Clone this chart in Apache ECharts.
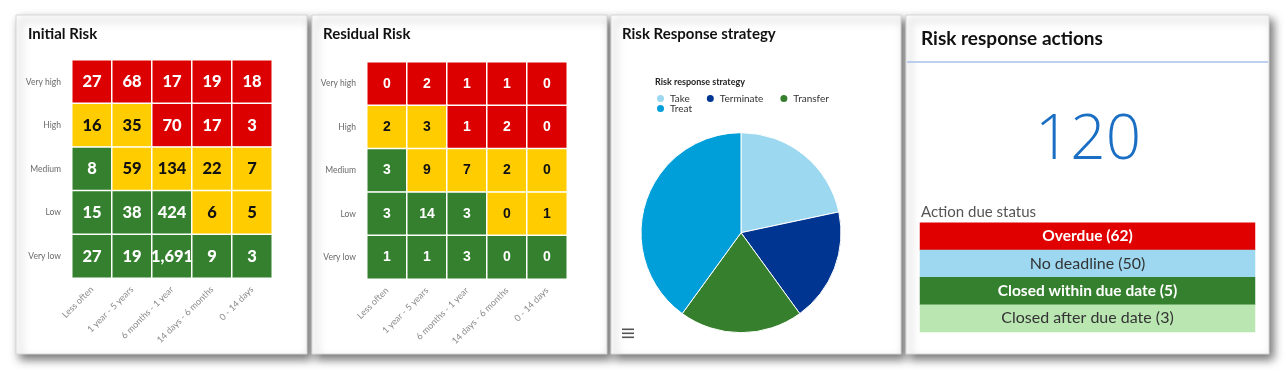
<!DOCTYPE html>
<html>
<head>
<meta charset="utf-8">
<script src="https://cdn.jsdelivr.net/npm/echarts@6/dist/echarts.min.js"></script>
<style>
html,body{margin:0;padding:0;background:#ffffff;}
#chart{width:1288px;height:370px;}
</style>
</head>
<body>
<div id="chart"></div>
<script>
// ---------- DATA ----------
const impactLevels = ['Very high', 'High', 'Medium', 'Low', 'Very low'];
const likelihoods = ['Less often', '1 year - 5 years', '6 months - 1 year', '14 days - 6 months', '0 - 14 days'];

const initialRisk = [
  [27, 68, 17, 19, 18],
  [16, 35, 70, 17, 3],
  [8, 59, 134, 22, 7],
  [15, 38, 424, 6, 5],
  [27, 19, 1691, 9, 3]
];
const residualRisk = [
  [0, 2, 1, 1, 0],
  [2, 3, 1, 2, 0],
  [3, 9, 7, 2, 0],
  [3, 14, 3, 0, 1],
  [1, 1, 3, 0, 0]
];
const ratingGrid = [
  ['H', 'H', 'H', 'H', 'H'],
  ['M', 'M', 'H', 'H', 'H'],
  ['L', 'M', 'M', 'M', 'M'],
  ['L', 'L', 'L', 'M', 'M'],
  ['L', 'L', 'L', 'L', 'L']
];

const strategyNames = ['Take', 'Terminate', 'Transfer', 'Treat'];
const strategyValues = [13, 11, 12, 24];

const statusNames = ['Overdue', 'No deadline', 'Closed within due date', 'Closed after due date'];
const statusCounts = [62, 50, 5, 3];

// ---------- STYLES ----------
const ratingColor = { H: '#dd0000', M: '#ffcc00', L: '#35802e' };
const ratingLabel = { H: '#ffffff', M: '#111111', L: '#ffffff' };
const strategyColors = ['#9cd8f0', '#003591', '#36802d', '#009fda'];
const statusColors = ['#e00000', '#9dd8f0', '#35802e', '#b9e6b1'];
const statusLabelColors = ['#ffffff', '#333333', '#ffffff', '#333333'];
const statusLabelWeights = ['bold', 'normal', 'bold', 'normal'];
const statusLabelSizes = [15.5, 16, 15.5, 16];

function matrixData(m) {
  const out = [];
  m.forEach((row, r) => row.forEach((v, c) => {
    const k = ratingGrid[r][c];
    out.push({ value: [c, r, v], itemStyle: { color: ratingColor[k] }, label: { color: ratingLabel[k] } });
  }));
  return out;
}

const cards = [
  { x: 16, y: 15, w: 291, h: 339 },
  { x: 312, y: 15, w: 295, h: 339 },
  { x: 611, y: 15, w: 290, h: 339 },
  { x: 906, y: 15, w: 363, h: 339 }
];

const titleStyle = { fontFamily: 'Lato', fontWeight: 'bold', fontSize: 15, color: '#111111' };

function matrixAxes(gi) {
  return {
    x: {
      type: 'category', gridIndex: gi, data: likelihoods,
      axisLine: { show: false }, axisTick: { show: false }, splitLine: { show: false },
      axisLabel: { rotate: 45, fontSize: 9, color: '#8a8a8a', fontFamily: 'Lato', margin: 10, interval: 0 }
    },
    y: {
      type: 'category', gridIndex: gi, data: impactLevels, inverse: true,
      axisLine: { show: false }, axisTick: { show: false }, splitLine: { show: false },
      axisLabel: { fontSize: 8.5, color: '#6a6a6a', fontFamily: 'Lato', margin: 11 }
    }
  };
}
const ax1 = matrixAxes(0), ax2 = matrixAxes(1);

const total = statusCounts.reduce((a, b) => a + b, 0);

const graphics = cards.map(c => ({
  type: 'rect', z: 0,
  shape: { x: c.x, y: c.y, width: c.w, height: c.h },
  style: { fill: '#ffffff', stroke: '#d6d6d6', lineWidth: 1, shadowBlur: 9, shadowOffsetX: 4, shadowOffsetY: 5, shadowColor: 'rgba(0,0,0,0.55)' }
}));
graphics.push(
  { type: 'line', z: 1, shape: { x1: 907, y1: 62, x2: 1268, y2: 62 }, style: { stroke: '#a9c1ea', lineWidth: 1.5 } },
  { type: 'rect', z: 1, shape: { x: 622, y: 328.5, width: 12, height: 1.6 }, style: { fill: '#555555' } },
  { type: 'rect', z: 1, shape: { x: 622, y: 332.5, width: 12, height: 1.6 }, style: { fill: '#555555' } },
  { type: 'rect', z: 1, shape: { x: 622, y: 336.5, width: 12, height: 1.6 }, style: { fill: '#555555' } },
  { type: 'text', z: 10, x: 1088, y: 141, style: { text: String(total), align: 'center', verticalAlign: 'middle', fontSize: 62, fontWeight: 300, fontFamily: 'Open Sans', fill: '#1a6ec3' } },
  { type: 'text', z: 10, x: 921, y: 212, style: { text: 'Action due status', align: 'left', verticalAlign: 'middle', fontSize: 15, fontFamily: 'Lato', fill: '#555555' } }
);

const legendCommon = {
  orient: 'horizontal', icon: 'circle', itemWidth: 9, itemHeight: 9, itemGap: 15, padding: 0,
  textStyle: { fontSize: 10, color: '#333333', fontFamily: 'Lato' }
};

const option = {
  animation: false,
  backgroundColor: '#ffffff',
  graphic: graphics,
  title: [
    { text: 'Initial Risk', left: 28, top: 27, padding: 0, textStyle: titleStyle },
    { text: 'Residual Risk', left: 323, top: 27, padding: 0, textStyle: titleStyle },
    { text: 'Risk Response strategy', left: 622, top: 27, padding: 0, textStyle: titleStyle },
    { text: 'Risk response actions', left: 921, top: 29, padding: 0, textStyle: Object.assign({}, titleStyle, { fontSize: 19 }) },
    { text: 'Risk response strategy', left: 655, top: 78, padding: 0, textStyle: { fontFamily: 'Lato', fontWeight: 'bold', fontSize: 9, color: '#222222' } }
  ],
  legend: [
    Object.assign({ data: strategyNames.slice(0, 3), left: 655, top: 93 }, legendCommon),
    Object.assign({ data: strategyNames.slice(3), left: 655, top: 103 }, legendCommon)
  ],
  grid: [
    { left: 72, top: 60, width: 200, height: 218, containLabel: false },
    { left: 367, top: 62, width: 200, height: 217, containLabel: false },
    { left: 920, top: 222.7, width: 335, height: 109.3, containLabel: false }
  ],
  xAxis: [
    ax1.x, ax2.x,
    { type: 'category', gridIndex: 2, data: ['Action due status'], show: false }
  ],
  yAxis: [
    ax1.y, ax2.y,
    { type: 'category', gridIndex: 2, data: statusNames, inverse: true, show: false }
  ],
  series: [
    {
      type: 'heatmap', xAxisIndex: 0, yAxisIndex: 0, data: matrixData(initialRisk),
      itemStyle: { borderColor: '#ffffff', borderWidth: 1.5 },
      label: { show: true, fontSize: 16.5, fontWeight: 900, fontFamily: 'Lato',
        formatter: p => p.value[2].toLocaleString('en-US') },
      emphasis: { disabled: true }
    },
    {
      type: 'heatmap', xAxisIndex: 1, yAxisIndex: 1, data: matrixData(residualRisk),
      itemStyle: { borderColor: '#ffffff', borderWidth: 1.5 },
      label: { show: true, fontSize: 14, fontWeight: 'bold', fontFamily: 'Liberation Sans',
        formatter: p => p.value[2].toLocaleString('en-US') },
      emphasis: { disabled: true }
    },
    {
      type: 'pie', name: 'Risk response strategy',
      center: [741, 232.7], radius: 100, startAngle: 90, clockwise: true,
      label: { show: false }, labelLine: { show: false },
      itemStyle: { borderColor: '#ffffff', borderWidth: 1 },
      data: strategyNames.map((n, i) => ({ name: n, value: strategyValues[i], itemStyle: { color: strategyColors[i] } })),
      emphasis: { disabled: true }
    },
    {
      type: 'heatmap', xAxisIndex: 2, yAxisIndex: 2,
      data: statusNames.map((n, i) => ({
        value: [0, i, statusCounts[i]],
        itemStyle: { color: statusColors[i] },
        label: { color: statusLabelColors[i], fontWeight: statusLabelWeights[i], fontSize: statusLabelSizes[i] }
      })),
      label: { show: true, fontFamily: 'Lato',
        formatter: p => statusNames[p.value[1]] + ' (' + p.value[2] + ')' },
      emphasis: { disabled: true }
    }
  ]
};

const chart = echarts.init(document.getElementById('chart'), null, { renderer: 'canvas' });
chart.setOption(option);
</script>
</body>
</html>
